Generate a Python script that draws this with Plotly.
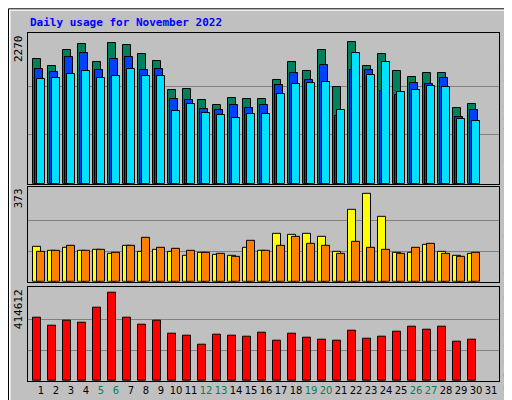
import plotly.graph_objects as go
from plotly.subplots import make_subplots

days = list(range(1, 32))
weekend = [5, 6, 12, 13, 19, 20, 26, 27]

# values (days 1..30)
hits = [1936, 1831, 2071, 2175, 1891, 2190, 2145, 2011, 1906, 1457, 1472, 1293, 1218, 1323, 1308, 1308, 1607, 1891, 1741, 2071, 1502, 2205, 1831, 2011, 1741, 1651, 1711, 1711, 1173, 1233]
files = [1786, 1726, 1966, 2026, 1771, 1936, 1966, 1761, 1786, 1308, 1293, 1158, 1143, 1218, 1173, 1218, 1532, 1711, 1607, 1846, 1053, 1771, 1771, 1442, 1382, 1562, 1547, 1637, 1038, 1143]
pages = [1621, 1636, 1696, 1756, 1636, 1666, 1786, 1666, 1666, 1128, 1233, 1098, 1068, 1023, 1083, 1083, 1397, 1547, 1562, 1577, 1143, 2026, 1681, 1891, 1427, 1457, 1517, 1502, 1008, 978]
visits = [143, 127, 139, 127, 131, 115, 147, 123, 131, 123, 104, 119, 108, 104, 139, 127, 193, 189, 193, 181, 123, 293, 355, 264, 119, 119, 150, 123, 104, 115]
sites = [123, 127, 147, 127, 131, 119, 147, 178, 139, 135, 127, 119, 112, 100, 166, 127, 147, 181, 154, 147, 115, 162, 139, 131, 115, 139, 154, 112, 100, 119]
kb_f = [286458, 251544, 273365, 264637, 330100, 399928, 286458, 255909, 273365, 212266, 203538, 164261, 207902, 203538, 199174, 220994, 181717, 212266, 194810, 186082, 181717, 229722, 190446, 199174, 225358, 247180, 234086, 247180, 177353, 186082]

HITS_MAX, VIS_MAX, KB_MAX = 2270, 373, 414612
GREEN, BLUE, CYAN = '#00805C', '#0040FF', '#00E0FF'
YELLOW, ORANGE, RED = '#FFFF00', '#FF8000', '#FF0000'
BG = '#C0C0C0'

x = days[:30]
fig = make_subplots(rows=3, cols=1, vertical_spacing=0.01)

def bars(vals, color, offset, row):
    fig.add_trace(go.Bar(x=x, y=vals, width=0.49, offset=offset,
                         marker=dict(color=color, line=dict(color='black', width=1)),
                         showlegend=False), row=row, col=1)

bars(hits, GREEN, -0.51, 1)
bars(files, BLUE, -0.38, 1)
bars(pages, CYAN, -0.25, 1)
bars(visits, YELLOW, -0.51, 2)
bars(sites, ORANGE, -0.25, 2)
bars(kb_f, RED, -0.51, 3)

domains = [(0.567, 1.0), (0.285, 0.558), (0.0, 0.271)]
maxes = [HITS_MAX, VIS_MAX, KB_MAX]
for i in range(3):
    r = i + 1
    m = maxes[i]
    fig.update_yaxes(range=[0, m * 1.03], domain=domains[i], tickvals=[m / 3, 2 * m / 3],
                     showticklabels=False, showgrid=True, gridcolor='#808080', gridwidth=1,
                     zeroline=False, showline=True, linecolor='black', mirror=True,
                     ticks='', row=r, col=1)
    fig.update_xaxes(range=[0.13, 31.53], showgrid=False, zeroline=False,
                     showline=True, linecolor='black', mirror=True, ticks='',
                     tickvals=days, showticklabels=(r == 3), row=r, col=1)

fig.update_xaxes(ticktext=[f"<span style='color:{GREEN if d in weekend else 'black'}'>{d}</span>" for d in days],
                 tickvals=days, tickangle=0,
                 tickfont=dict(family='DejaVu Sans', size=10, color='black'),
                 row=3, col=1)

ann = []
for lbl, yd in [(str(HITS_MAX), 1.0), (str(VIS_MAX), 0.558), (str(KB_MAX), 0.271)]:
    ann.append(dict(text=lbl, x=0, xref='paper', y=yd, yref='paper', xanchor='right',
                    yanchor='top', xshift=-1, textangle=-90, showarrow=False,
                    font=dict(family='DejaVu Sans Mono', size=11, color='black')))

def side(parts, yd):
    txt = "<span style='color:black'> / </span>".join(
        f"<span style='color:{c}'>{t}</span>" for t, c in parts)
    return dict(text=txt, x=1, xref='paper', y=yd, yref='paper', xanchor='left',
                yanchor='middle', xshift=2, textangle=-90, showarrow=False,
                font=dict(family='DejaVu Sans Mono', size=10))

ann.append(side([('Pages', CYAN), ('Files', BLUE), ('Hits', GREEN)], 0.78))
ann.append(side([('Sites', ORANGE), ('Visits', YELLOW)], 0.42))
ann.append(side([('kB F', RED), ('kB In', BLUE), ('kB Out', GREEN)], 0.135))
ann.append(dict(text='<b>Daily usage for November 2022</b>', x=0, xref='paper', y=1,
                yref='paper', showarrow=False, xanchor='left', yanchor='bottom', yshift=2,
                font=dict(family='DejaVu Sans Mono', size=11, color='#0000FF')))

fig.update_layout(
    width=512, height=400,
    margin=dict(l=20, r=21, t=25, b=24),
    paper_bgcolor=BG, plot_bgcolor=BG,
    barmode='overlay', bargap=0,
    annotations=ann,
    shapes=[
        dict(type='rect', xref='paper', yref='paper', x0=-0.0403, x1=1.0425, y0=-0.0655, y1=1.068,
             line=dict(color='white', width=3), layer='below'),
        dict(type='rect', xref='paper', yref='paper', x0=-0.0414, x1=1.0435, y0=-0.067, y1=1.0695,
             line=dict(color='black', width=1), layer='below'),
    ],
)

fig.write_html("out.html")
